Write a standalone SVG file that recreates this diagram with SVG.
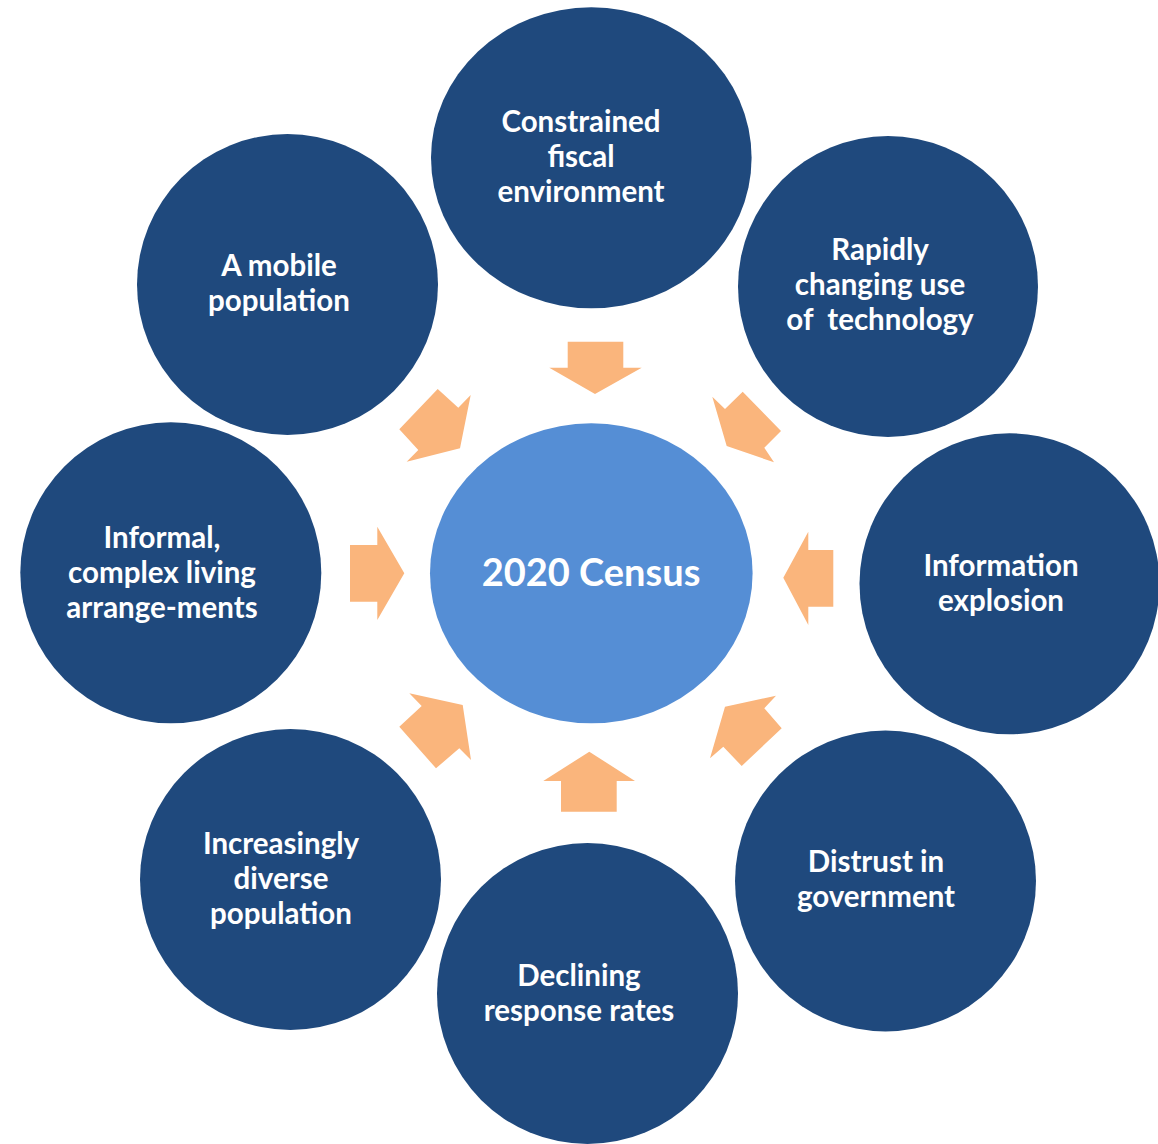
<svg xmlns="http://www.w3.org/2000/svg" width="1158" height="1144" viewBox="0 0 1158 1144">
<style>
.node{fill:#1F497D}
.hub{fill:#558ED5}
.lbl{font-family:Lato,"Open Sans","Liberation Sans",sans-serif;font-weight:700;font-size:29.5px;fill:#FFFFFF;text-anchor:middle}
.hubl{font-size:38px}
.arr{fill:#FAB57C}
</style>
<rect width="1158" height="1144" fill="#FFFFFF"/>
<g id="connectors">
<polygon class="arr" points="567.7,341.7 623.3,341.7 623.3,367.7 641.7,367.7 595,394 549.3,367.7 567.7,367.7"/>
<polygon class="arr" points="742.7,391.7 781,431 764.3,447.7 774,462.3 726.7,446 712.3,396.7 725,409"/>
<polygon class="arr" points="833.3,550 833.3,606.7 808.3,606.7 808.3,625 783.3,577.7 808.3,531.7 808.3,550"/>
<polygon class="arr" points="781.7,728.3 741.7,766 723.3,746.7 710,758.3 725,706.7 776,695.7 764.3,708.3"/>
<polygon class="arr" points="616.7,811.7 561,811.7 561,781 543.3,781 589.3,751.7 635,781 616.7,781"/>
<polygon class="arr" points="436,768.3 399.3,726.7 421.7,706 409.3,693.3 462.7,705 471,760 459.3,748.3"/>
<polygon class="arr" points="350,545 377.3,545 377.3,526.7 404.3,573.3 377.3,620 377.3,601.7 350,601.7"/>
<polygon class="arr" points="399.3,429.3 437.7,389 458.3,407.7 470.7,395 460,448.3 406.7,461.7 418.3,450"/>
</g>
<g id="node-center">
<ellipse class="hub" cx="591.3" cy="573.3" rx="161.3" ry="150"/>
<text class="lbl hubl" x="591" y="586">2020 Census</text>
</g>
<g id="node-fiscal">
<ellipse class="node" cx="591.3" cy="157.8" rx="160.3" ry="150.5"/>
<text class="lbl" x="581" y="132">Constrained</text>
<text class="lbl" x="581" y="167">fiscal</text>
<text class="lbl" x="581" y="202">environment</text>
</g>
<g id="node-technology">
<ellipse class="node" cx="888" cy="286.5" rx="150" ry="150.5"/>
<text class="lbl" x="880" y="260">Rapidly</text>
<text class="lbl" x="880" y="295">changing use</text>
<text class="lbl" x="880" y="330" xml:space="preserve">of  technology</text>
</g>
<g id="node-information">
<ellipse class="node" cx="1009.5" cy="583.8" rx="150" ry="150.5"/>
<text class="lbl" x="1001" y="576">Information</text>
<text class="lbl" x="1001" y="611">explosion</text>
</g>
<g id="node-distrust">
<ellipse class="node" cx="885.5" cy="881" rx="150.5" ry="150.5"/>
<text class="lbl" x="876" y="872">Distrust in</text>
<text class="lbl" x="876" y="907">government</text>
</g>
<g id="node-response">
<ellipse class="node" cx="587.5" cy="993.5" rx="150.5" ry="150.5"/>
<text class="lbl" x="579" y="986">Declining</text>
<text class="lbl" x="579" y="1021">response rates</text>
</g>
<g id="node-diverse">
<ellipse class="node" cx="290.5" cy="879.5" rx="150.5" ry="150.5"/>
<text class="lbl" x="281" y="854">Increasingly</text>
<text class="lbl" x="281" y="889">diverse</text>
<text class="lbl" x="281" y="924">population</text>
</g>
<g id="node-living">
<ellipse class="node" cx="170.8" cy="572.8" rx="150.5" ry="150.5"/>
<text class="lbl" x="162" y="548">Informal,</text>
<text class="lbl" x="162" y="583">complex living</text>
<text class="lbl" x="162" y="618">arrange-ments</text>
</g>
<g id="node-mobile">
<ellipse class="node" cx="287.5" cy="284.5" rx="150.5" ry="150.5"/>
<text class="lbl" x="279" y="276">A mobile</text>
<text class="lbl" x="279" y="311">population</text>
</g>
</svg>
